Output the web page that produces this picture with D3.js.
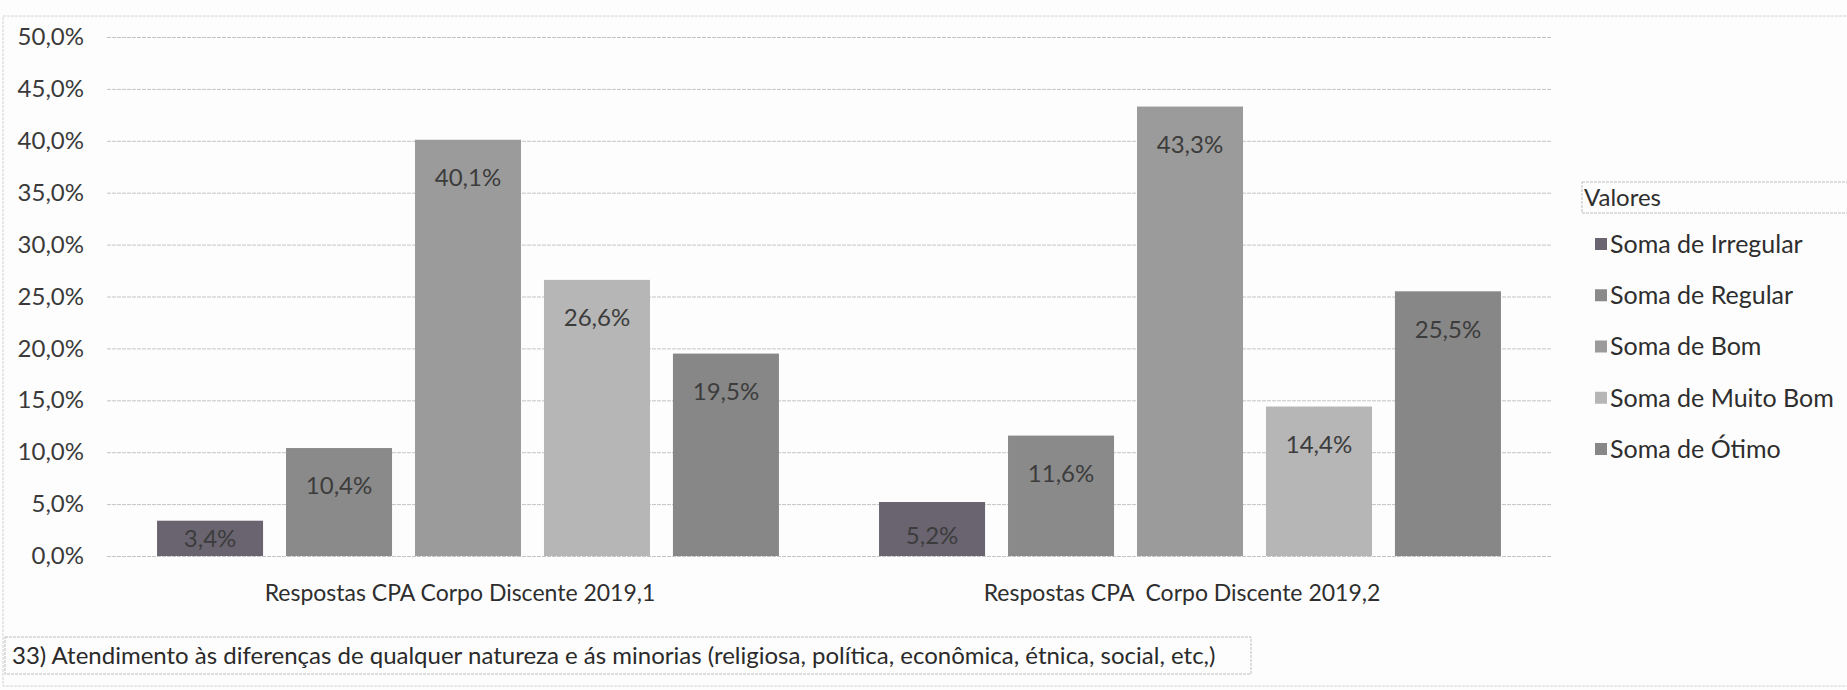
<!DOCTYPE html>
<html>
<head>
<meta charset="utf-8">
<script src="https://cdn.jsdelivr.net/npm/d3@7"></script>
<style>
  html, body { margin: 0; padding: 0; background: #fdfdfd; }
  svg { display: block; font-family: Lato, "Open Sans", sans-serif; }
</style>
</head>
<body>
<svg id="chart" width="1847" height="690"></svg>
<script>
// ---- data ----
const categories = ["Respostas CPA Corpo Discente 2019,1", "Respostas CPA  Corpo Discente 2019,2"];
const seriesNames = ["Soma de Irregular", "Soma de Regular", "Soma de Bom", "Soma de Muito Bom", "Soma de Ótimo"];
const values2019_1 = [3.4, 10.4, 40.1, 26.6, 19.5];
const values2019_2 = [5.2, 11.6, 43.3, 14.4, 25.5];
const yTickValues = [0, 5, 10, 15, 20, 25, 30, 35, 40, 45, 50];
const legendTitle = "Valores";
const footerText = "33) Atendimento às diferenças de qualquer natureza e ás minorias (religiosa, política, econômica, étnica, social, etc,)";

const seriesColors = ["#6a6470", "#8a8a8a", "#9b9b9b", "#b6b6b6", "#878787"];

const table = categories.map((c, i) => ({
  category: c,
  values: seriesNames.map((s, j) => ({ series: s, value: [values2019_1, values2019_2][i][j] }))
}));

const fmt = v => d3.format(".1f")(v).replace(".", ",") + "%";

const svg = d3.select("#chart");

// outer frame (scanned chart border)
svg.append("rect")
  .attr("x", 3).attr("y", 16).attr("width", 1850).attr("height", 670)
  .attr("fill", "none").attr("stroke", "#d2d2d2").attr("stroke-width", 1)
  .attr("stroke-dasharray", "3,1");

const x0 = d3.scaleBand().domain(categories).range([107, 1551]).padding(0);
const x1 = d3.scaleBand().domain(seriesNames).range([0, x0.bandwidth()])
  .paddingInner(0.178).paddingOuter(0.388);
const y = d3.scaleLinear().domain([0, 50]).range([556, 37]);
const color = d3.scaleOrdinal().domain(seriesNames).range(seriesColors);

// gridlines
const grid = svg.append("g")
  .attr("transform", "translate(107,0)")
  .call(d3.axisLeft(y).tickValues(yTickValues).tickSize(-(1551 - 107)).tickFormat(""));
grid.select(".domain").remove();
grid.selectAll(".tick line").attr("stroke", "#c4c4c4").attr("stroke-width", 1).attr("stroke-dasharray", "4,1");

// y tick labels
const yAxis = svg.append("g")
  .attr("transform", "translate(84,0)")
  .call(d3.axisLeft(y).tickValues(yTickValues).tickSize(0).tickPadding(0).tickFormat(fmt));
yAxis.select(".domain").remove();
yAxis.selectAll("text")
  .attr("font-family", "Lato, sans-serif")
  .attr("font-size", 24).attr("fill", "#3a3a3a");

// bars
const groups = svg.append("g").selectAll("g")
  .data(table).join("g")
  .attr("transform", d => `translate(${x0(d.category)},0)`);

groups.selectAll("rect")
  .data(d => d.values).join("rect")
  .attr("x", d => x1(d.series))
  .attr("y", d => y(d.value))
  .attr("width", x1.bandwidth())
  .attr("height", d => y(0) - y(d.value))
  .attr("fill", d => color(d.series));

groups.selectAll("text.lbl")
  .data(d => d.values).join("text")
  .attr("class", "lbl")
  .attr("x", d => x1(d.series) + x1.bandwidth() / 2)
  .attr("y", d => {
    const h = y(0) - y(d.value);
    return y(d.value) + Math.min(38, Math.max(h / 2, h - 20));
  })
  .attr("dy", "0.35em")
  .attr("text-anchor", "middle")
  .attr("font-size", 24)
  .attr("fill", "#3c3c3c")
  .text(d => fmt(d.value));

// category labels
svg.append("g").selectAll("text")
  .data(categories).join("text")
  .attr("x", d => x0(d) + x0.bandwidth() / 2 - 8)
  .attr("y", 601)
  .attr("text-anchor", "middle")
  .attr("font-size", 23)
  .attr("fill", "#2e2e2e")
  .style("white-space", "pre")
  .text(d => d);

// legend
const lg = svg.append("g");
lg.append("rect")
  .attr("x", 1582).attr("y", 182).attr("width", 280).attr("height", 31)
  .attr("fill", "none").attr("stroke", "#bdbdbd").attr("stroke-dasharray", "3,1");
lg.append("text")
  .attr("x", 1584).attr("y", 206)
  .attr("font-size", 24).attr("fill", "#2e2e2e")
  .text(legendTitle);
const legendY = d3.scalePoint().domain(seriesNames).range([244, 449]);
const items = lg.selectAll("g.item").data(seriesNames).join("g")
  .attr("class", "item")
  .attr("transform", d => `translate(1595,${legendY(d)})`);
items.append("rect")
  .attr("x", 0).attr("y", -6).attr("width", 12).attr("height", 12)
  .attr("fill", d => color(d));
items.append("text")
  .attr("x", 15).attr("y", 0).attr("dy", "0.35em")
  .attr("font-size", 25).attr("fill", "#2e2e2e")
  .text(d => d);

// footer box
svg.append("rect")
  .attr("x", 5).attr("y", 637).attr("width", 1246).attr("height", 37)
  .attr("fill", "none").attr("stroke", "#bdbdbd").attr("stroke-dasharray", "3,1");
svg.append("text")
  .attr("x", 12).attr("y", 664)
  .attr("font-size", 24).attr("fill", "#2a2a2a")
  .text(footerText);
</script>
</body>
</html>
